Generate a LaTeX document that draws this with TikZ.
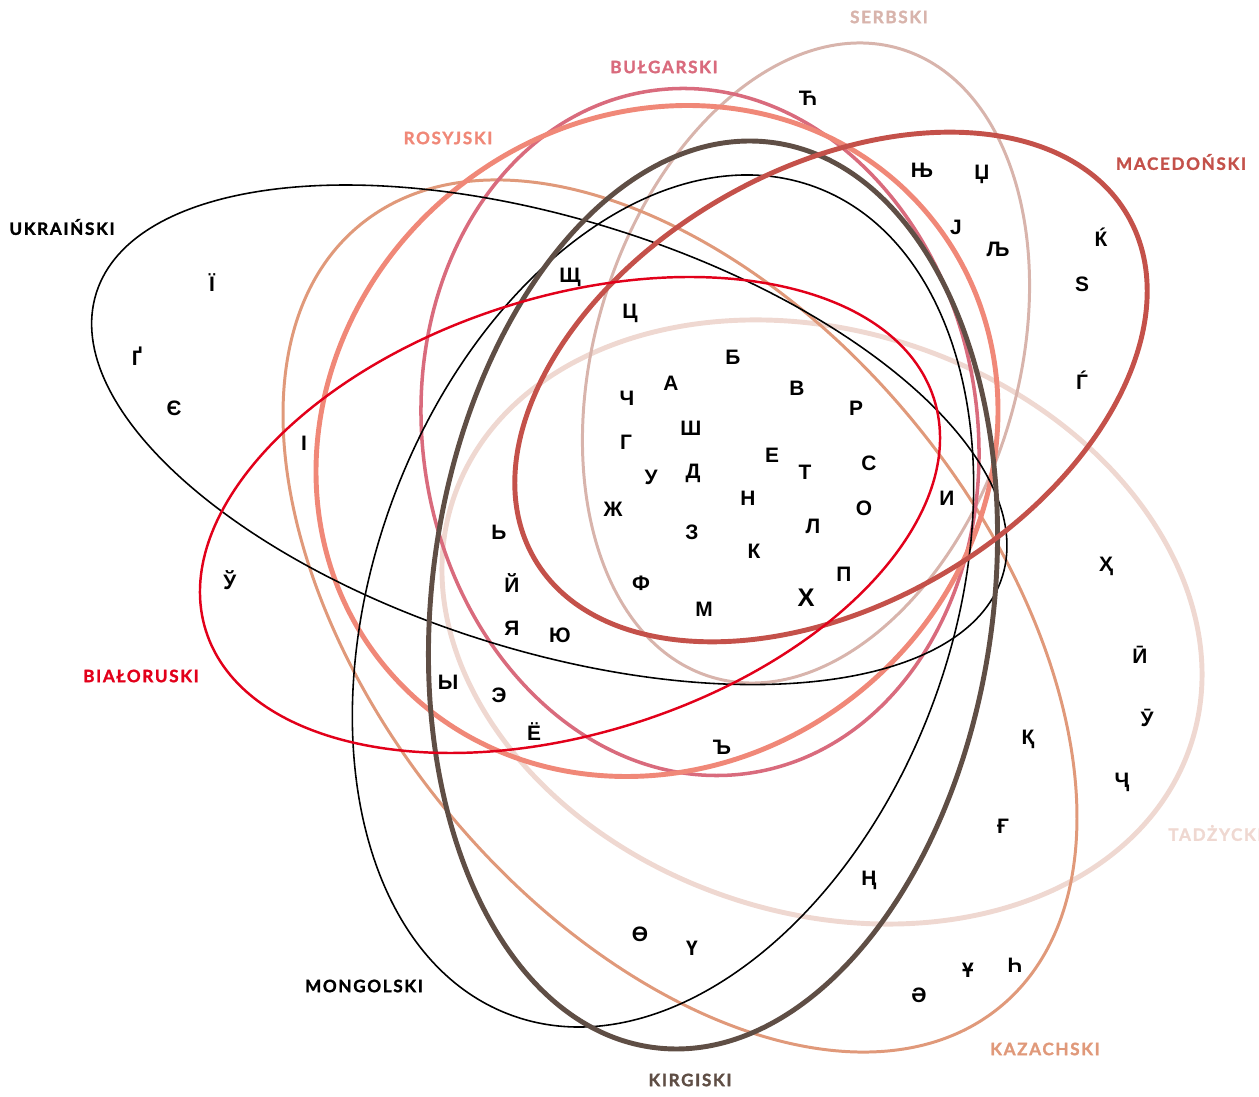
\documentclass[tikz,border=0pt]{standalone}
\usepackage{fontspec}
\usepackage{xcolor}
\usepackage{tikz}
\usetikzlibrary{calc}

\newfontfamily\letterfont{Liberation Sans}
\newfontfamily\labelfont[LetterSpace=10,BoldFeatures={FakeBold=1.6}]{Lato}

\definecolor{ukrcol}{HTML}{000000}
\definecolor{belcol}{HTML}{E2001A}
\definecolor{ruscol}{HTML}{F08878}
\definecolor{bulcol}{HTML}{D96B7D}
\definecolor{srbcol}{HTML}{D8B4AC}
\definecolor{maccol}{HTML}{C4514A}
\definecolor{tadcol}{HTML}{EFD8D1}
\definecolor{kazcol}{HTML}{E0997A}
\definecolor{kircol}{HTML}{5F4E45}
\definecolor{moncol}{HTML}{000000}

\begin{document}
\begin{tikzpicture}[x=0.02cm,y=-0.02cm,
    lang/.style={fill=none},
    letter/.style={font=\letterfont\bfseries\fontsize{11.9}{12}\selectfont,inner sep=0pt},
    lab/.style={font=\labelfont\bfseries\fontsize{9.7}{10}\selectfont,inner sep=0pt}]
\useasboundingbox (0,0) rectangle (1259,1097);

% the language sets
\draw[lang,tadcol,line width=2.8pt,rotate around={-18.5:(822,622)}] (822,622) ellipse [x radius=388.7, y radius=290.7];
\draw[lang,srbcol,line width=1.7pt,rotate around={73.3:(806,363)}] (806,363) ellipse [x radius=328, y radius=211.6];
\draw[lang,kazcol,line width=1.7pt,rotate around={-50.75:(680,616)}] (680,616) ellipse [x radius=505.3, y radius=303.9];
\draw[lang,bulcol,line width=2pt,rotate around={98.1:(700,432)}] (700,432) ellipse [x radius=344.7, y radius=277.5];
\draw[lang,ruscol,line width=2.8pt,rotate around={39.9:(657,441)}] (657,441) ellipse [x radius=353.4, y radius=322.4];
\draw[lang,ukrcol,line width=0.9pt,rotate around={-17.35:(549.3,434.8)}] (549.3,434.8) ellipse [x radius=474.7, y radius=215.6];
\draw[lang,moncol,line width=0.9pt,rotate around={69.9:(663,601)}] (663,601) ellipse [x radius=441.1, y radius=288.7];
\draw[lang,kircol,line width=2.8pt,rotate around={82.5:(713,595)}] (713,595) ellipse [x radius=456.4, y radius=280.6];
\draw[lang,maccol,line width=2.8pt,rotate around={30:(831,387)}] (831,387) ellipse [x radius=342.7, y radius=217.8];
\draw[lang,belcol,line width=1.4pt,rotate around={17.7:(570,515)}] (570,515) ellipse [x radius=382.1, y radius=218];

% names
\node[lab,text=srbcol] (serbski) at (889,17) {SERBSKI};
\node[lab,text=bulcol] (bulgarski) at (664,67) {BUŁGARSKI};
\node[lab,text=ruscol] (rosyjski) at (448,138) {ROSYJSKI};
\node[lab,text=maccol] (macedonski) at (1181,162) {MACEDOŃSKI};
\node[lab,text=ukrcol] (ukrainski) at (62,227) {UKRAIŃSKI};
\node[lab,text=belcol] (bialoruski) at (141,676) {BIAŁORUSKI};
\node[lab,text=tadcol,anchor=west] (tadzycki) at (1168,833) {TADŻYCKI};
\node[lab,text=moncol] (mongolski) at (364,986) {MONGOLSKI};
\node[lab,text=kircol] (kirgiski) at (690,1080) {KIRGISKI};
\node[lab,text=kazcol] (kazachski) at (1045,1049) {KAZACHSKI};

% letters
\foreach \px/\py/\ch [count=\i] in {212/283/Ї, 137/356/Ґ, 174/408/Є, 304/443/І, 230/580/Ў,
    570/277/Щ, 630/313/Ц, 733/357/Б, 671/383/А, 627/398/Ч, 797/388/В, 856/408/Р,
    691/428/Ш, 626/442/Г, 772/455/Е, 805/472/Т, 869/463/С, 651/477/У, 693/473/Д,
    748/498/Н, 864/508/О, 947/498/И, 613/509/Ж, 692/532/З, 813/526/Л, 754/551/К,
    844/574/П, 641/583/Ф, 704/609/М,
    499/532/Ь, 512/583/Й, 512/628/Я, 560/635/Ю, 448/682/Ы, 499/695/Э, 534/732/Ё, 722/747/Ъ,
    808/98/Ћ, 922/170/Њ, 982/174/Џ, 956/227/Ј, 998/249/Љ, 1101/237/Ќ, 1082/284/Ѕ, 1082/380/Ѓ,
    1106/566/Ҳ, 1140/655/Ӣ, 1147/718/Ӯ, 1122/782/Ҷ,
    1028/739/Қ, 1003/826/Ғ, 869/880/Ң, 919/995/Ә, 968/970/Ұ, 1015/965/Һ,
    640/934/Ө, 692/948/Ү}
  \node[letter] (ch\i) at (\px,\py) {\ch};
\node[letter,font=\letterfont\bfseries\fontsize{14.5}{15}\selectfont] (chx) at (806,598) {Х};
\end{tikzpicture}
\end{document}
